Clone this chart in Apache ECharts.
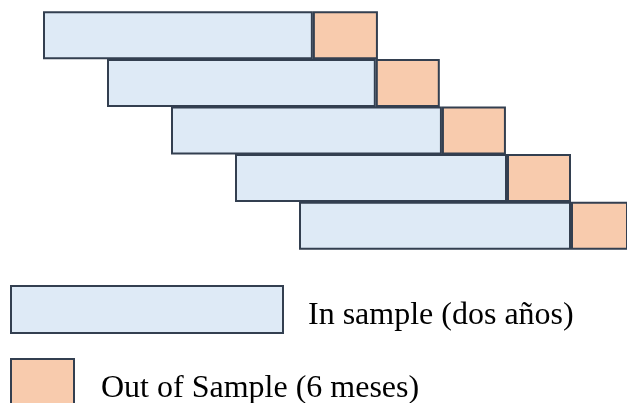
<!DOCTYPE html>
<html>
<head>
<meta charset="utf-8">
<script src="https://cdn.jsdelivr.net/npm/echarts@6/dist/echarts.min.js"></script>
<style>
  html, body { margin: 0; padding: 0; background: #fff; }
  #chart { width: 627px; height: 403px; }
</style>
</head>
<body>
<div id="chart"></div>
<script>
// ventanas walk-forward (unidades: meses)
var ventanas = ['1', '2', '3', '4', '5'];
var inicio = [0, 6, 12, 18, 24];
var inSample = [25.3, 25.2, 25.4, 25.5, 25.5];
var outSample = [6.1, 6, 6, 6, 6];

var nombreIn = 'In sample (dos años)';
var nombreOut = 'Out of Sample (6 meses)';

var borde = '#333F50';
var azul = '#DEEAF6';
var naranja = '#F8CBAD';

var myChart = echarts.init(document.getElementById('chart'));

// texto de la leyenda un poco mas abajo que el centro del icono
function textoLeyenda(izq) {
  return {
    rich: {
      t: {
        fontFamily: 'Liberation Serif',
        fontSize: 32,
        color: '#000',
        padding: [13, 0, 0, izq]
      }
    }
  };
}

myChart.setOption({
  animation: false,
  grid: {
    left: 43,
    right: 0,
    top: 11.5,
    height: 238
  },
  xAxis: {
    type: 'value',
    min: 0,
    max: 54.75,
    show: false
  },
  yAxis: {
    type: 'category',
    data: ventanas,
    inverse: true,
    show: false
  },
  legend: [
    {
      data: [nombreIn],
      left: 10,
      top: 285,
      padding: 0,
      icon: 'rect',
      itemWidth: 272,
      itemHeight: 47,
      selectedMode: false,
      formatter: '{t|{name}}',
      textStyle: textoLeyenda(20)
    },
    {
      data: [nombreOut],
      left: 10,
      top: 358,
      padding: 0,
      icon: 'rect',
      itemWidth: 63,
      itemHeight: 47,
      selectedMode: false,
      formatter: '{t|{name}}',
      textStyle: textoLeyenda(22)
    }
  ],
  series: [
    {
      name: 'inicio',
      type: 'bar',
      stack: 'total',
      silent: true,
      barWidth: 48,
      barCategoryGap: 0,
      itemStyle: { color: 'rgba(0,0,0,0)', borderWidth: 0 },
      data: inicio
    },
    {
      name: nombreIn,
      type: 'bar',
      stack: 'total',
      barWidth: 48,
      itemStyle: { color: azul, borderColor: borde, borderWidth: 2 },
      data: inSample
    },
    {
      name: nombreOut,
      type: 'bar',
      stack: 'total',
      barWidth: 48,
      itemStyle: { color: naranja, borderColor: borde, borderWidth: 2 },
      data: outSample
    }
  ]
});
</script>
</body>
</html>
